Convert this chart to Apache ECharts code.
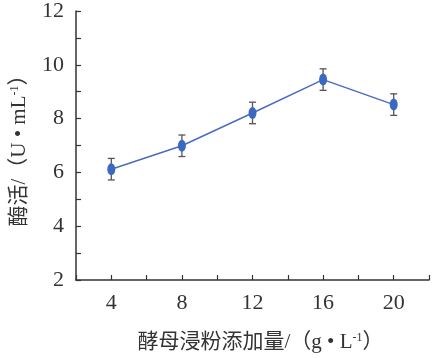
<!DOCTYPE html>
<html><head><meta charset="utf-8">
<script src="https://cdn.jsdelivr.net/npm/echarts@6/dist/echarts.min.js"></script>
<style>html,body{margin:0;padding:0;background:#fff}#c{width:432px;height:358px}</style>
</head><body><div id="c"></div>
<script>
const xValues = [4, 8, 12, 16, 20];
const activity = [6.12, 6.99, 8.21, 9.45, 8.52];
const errors = [0.40, 0.40, 0.40, 0.40, 0.40];
const xLabels = ['4', '8', '12', '16', '20'];
const yLabels = ['2', '4', '6', '8', '10', '12'];

const FONT = '"Liberation Serif", "Noto Sans CJK SC", serif';
const axisColor = '#333';
const lineData = xValues.map((x, i) => [x, activity[i]]);
const errData = xValues.map((x, i) => [x, activity[i] - errors[i], activity[i] + errors[i]]);

const chart = echarts.init(document.getElementById('c'), null, {renderer: 'canvas'});
chart.setOption({
  animation: false,
  backgroundColor: '#fff',
  grid: {left: 76, right: 1, top: 10, bottom: 73, containLabel: false},
  xAxis: {
    type: 'value', min: 2, max: 22, interval: 2,
    axisLine: {lineStyle: {color: axisColor, width: 1.5}},
    axisTick: {inside: true, length: 5, lineStyle: {color: axisColor, width: 1.2}},
    splitLine: {show: false},
    axisLabel: {
      margin: 12, color: '#333', fontSize: 22, fontFamily: FONT,
      formatter: v => xLabels.includes(String(v)) ? String(v) : ''
    },
    name: '酵母浸粉添加量/（g • L{sup|-1}）',
    nameLocation: 'middle', nameGap: 52,
    nameTextStyle: {color: '#333', fontSize: 21, fontFamily: FONT, padding: [0, 0, 0, 16],
      rich: {sup: {fontSize: 12, verticalAlign: 'top', color: '#333', fontFamily: FONT, padding: [0, 0, 9, 0]}}}
  },
  yAxis: {
    type: 'value', min: 2, max: 12, interval: 1,
    axisLine: {show: true, lineStyle: {color: axisColor, width: 1.5}},
    axisTick: {show: true, inside: true, length: 5, lineStyle: {color: axisColor, width: 1.2}},
    splitLine: {show: false},
    axisLabel: {
      margin: 12, color: '#333', fontSize: 22, fontFamily: FONT,
      formatter: v => yLabels.includes(String(v)) ? String(v) : ''
    },
    name: '酶活/（U • mL{sup|-1}）',
    nameLocation: 'middle', nameGap: 46, nameRotate: 90,
    nameTextStyle: {color: '#333', fontSize: 21, fontFamily: FONT,
      rich: {sup: {fontSize: 12, verticalAlign: 'top', color: '#333', fontFamily: FONT, padding: [0, 0, 9, 0]}}}
  },
  series: [
    {
      type: 'custom',
      data: errData,
      z: 3,
      renderItem: function (params, api) {
        const x = api.value(0);
        const lo = api.coord([x, api.value(1)]);
        const hi = api.coord([x, api.value(2)]);
        const w = 3.5;
        const st = {stroke: '#555', lineWidth: 1.3};
        return {type: 'group', children: [
          {type: 'line', shape: {x1: lo[0], y1: lo[1], x2: hi[0], y2: hi[1]}, style: st},
          {type: 'line', shape: {x1: lo[0] - w, y1: lo[1], x2: lo[0] + w, y2: lo[1]}, style: st},
          {type: 'line', shape: {x1: hi[0] - w, y1: hi[1], x2: hi[0] + w, y2: hi[1]}, style: st}
        ]};
      }
    },
    {
      type: 'line',
      data: lineData,
      z: 4,
      symbol: 'circle',
      symbolSize: [8, 12],
      lineStyle: {color: '#4a6cc0', width: 1.5},
      itemStyle: {color: '#3b69c2'}
    }
  ]
});
</script></body></html>
